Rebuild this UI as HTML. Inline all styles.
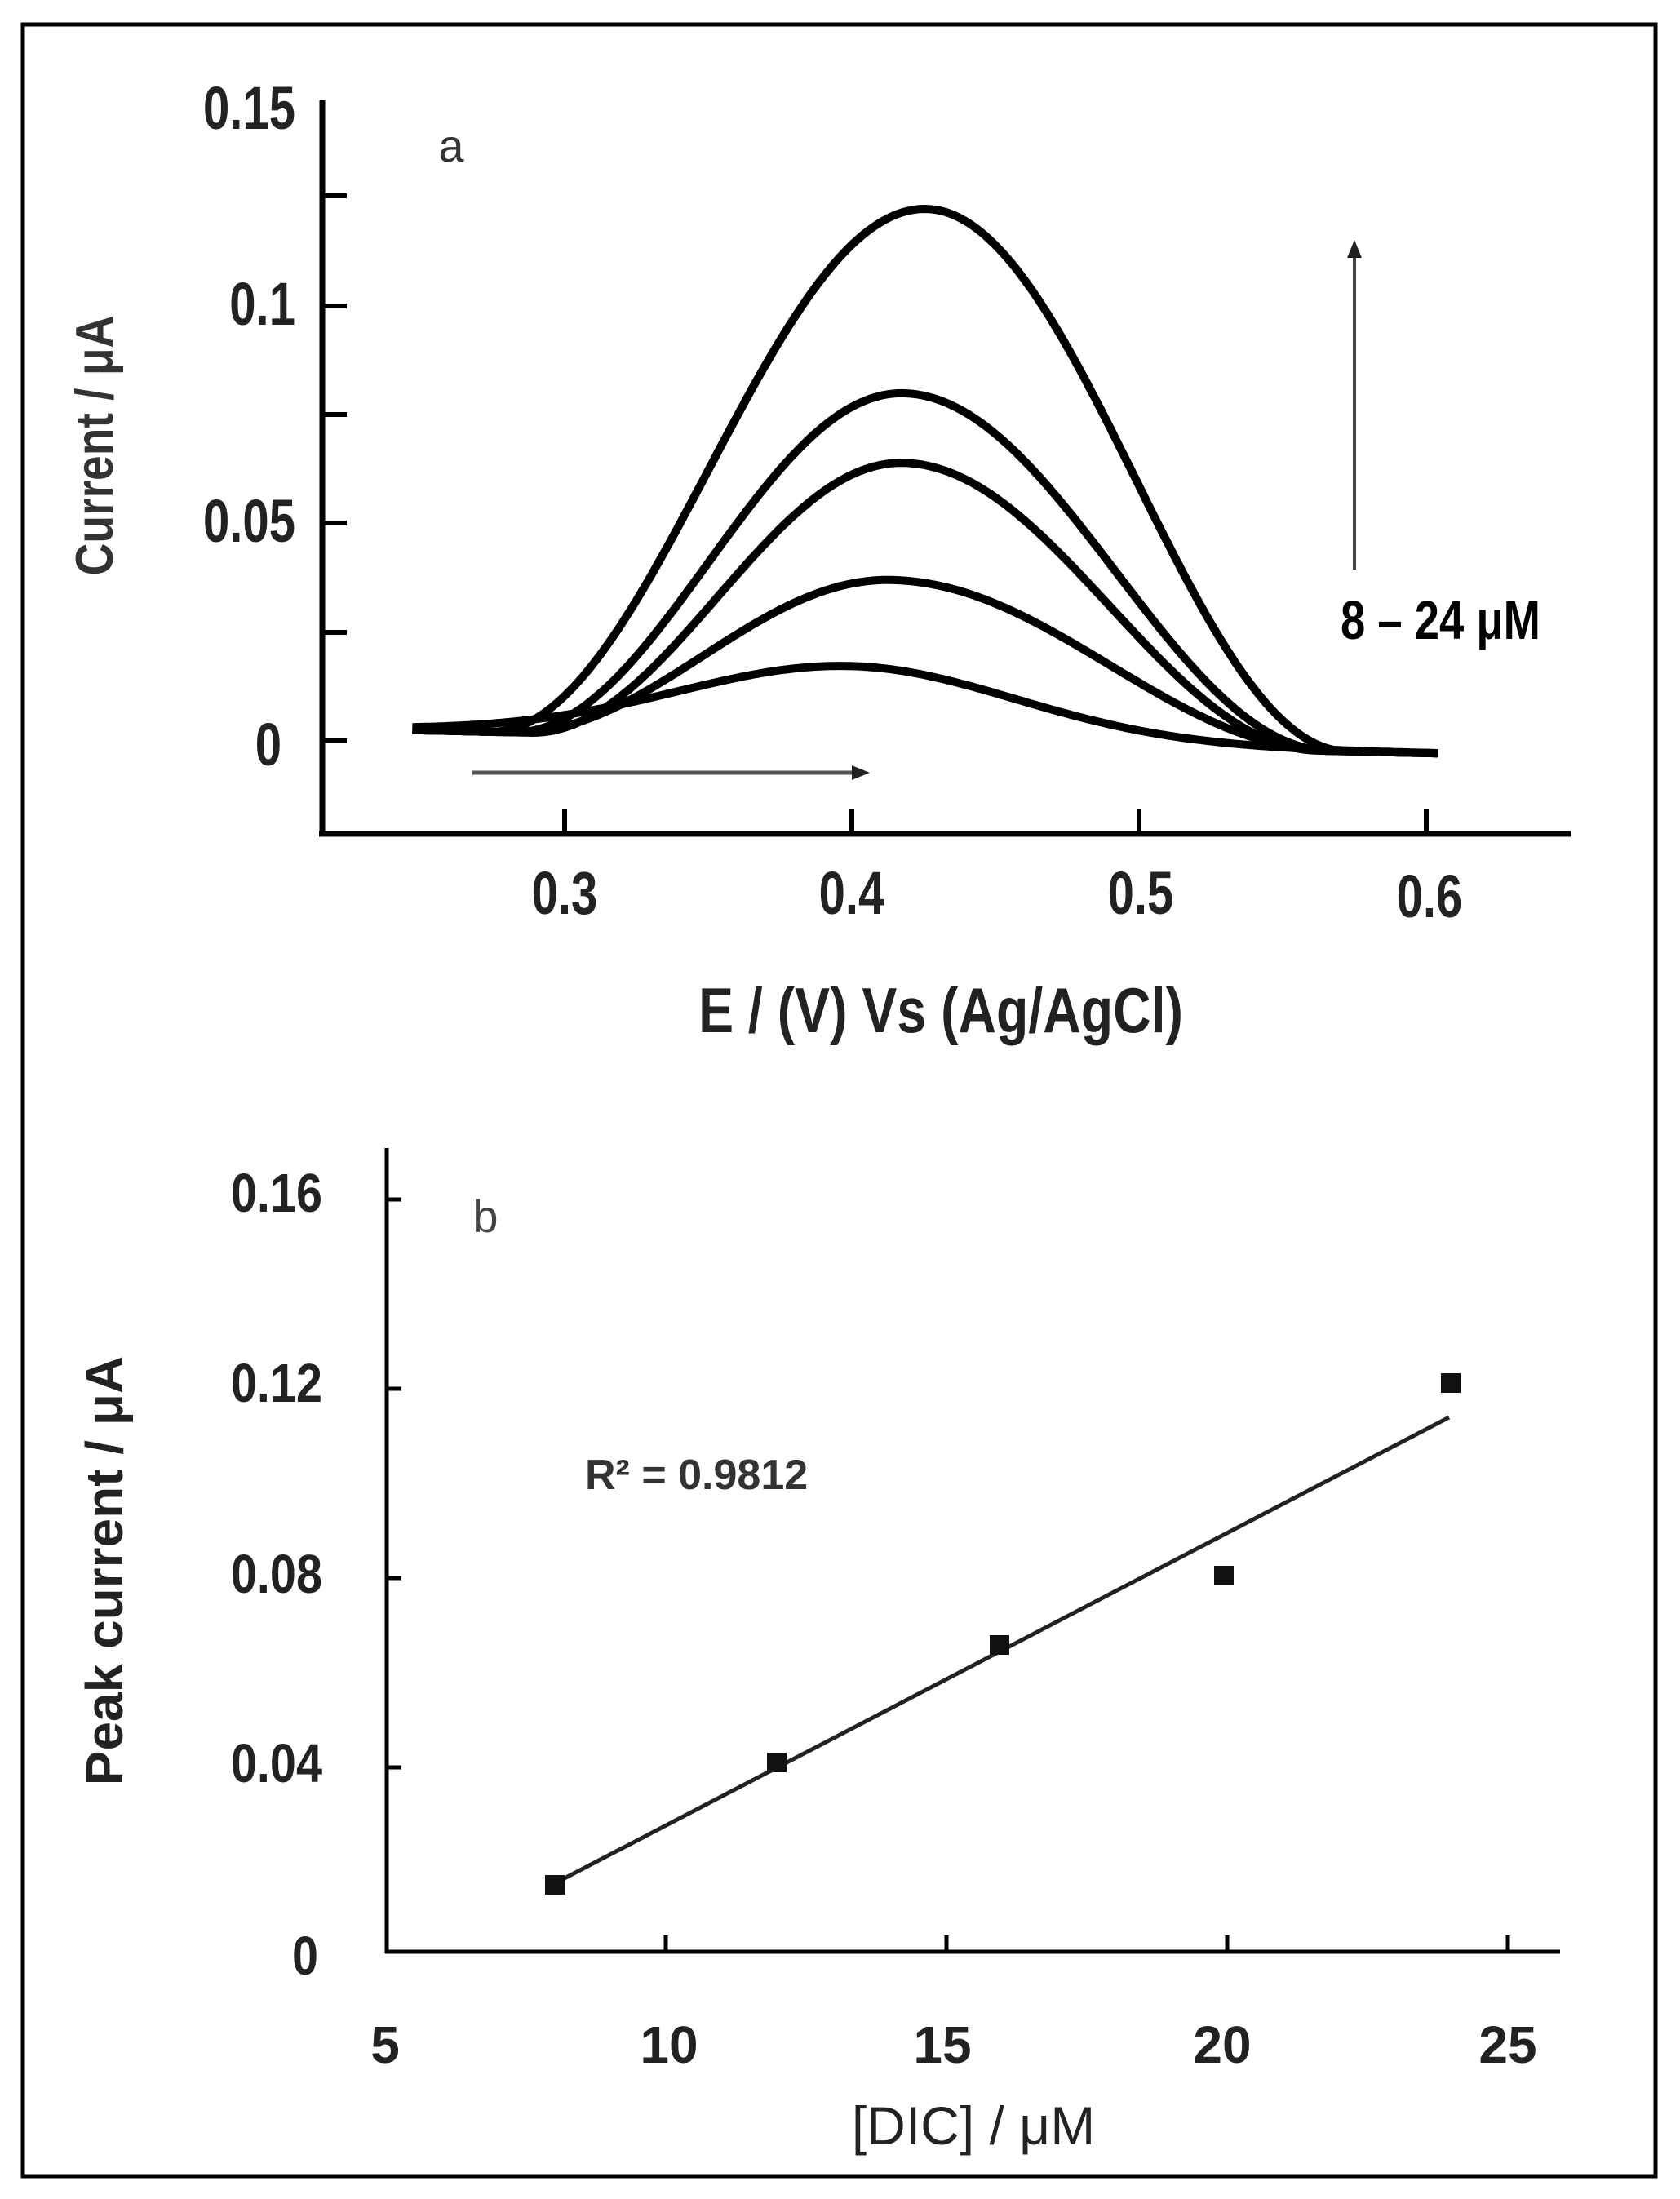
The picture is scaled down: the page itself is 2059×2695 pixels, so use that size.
<!DOCTYPE html>
<html><head><meta charset="utf-8"><style>
html,body{margin:0;padding:0;background:#fff;}
svg{display:block;}
text{font-family:"Liberation Sans",sans-serif;}
</style></head><body>
<svg id="s" width="2059" height="2695" viewBox="0 0 2059 2695" xmlns="http://www.w3.org/2000/svg">
<rect x="0" y="0" width="2059" height="2695" fill="#fff"/>
<rect x="28" y="30" width="2001" height="2637" fill="none" stroke="#000" stroke-width="5"/>

<g stroke="#000" stroke-width="7" fill="none">
<line x1="395" y1="123" x2="395" y2="1025"/>
<line x1="391" y1="1022" x2="1925" y2="1022"/>
</g>
<g stroke="#000" stroke-width="6">
<line x1="395" y1="240" x2="425" y2="240"/>
<line x1="395" y1="375" x2="425" y2="375"/>
<line x1="395" y1="508" x2="425" y2="508"/>
<line x1="395" y1="641" x2="425" y2="641"/>
<line x1="395" y1="775" x2="425" y2="775"/>
<line x1="395" y1="908" x2="425" y2="908"/>
<line x1="692" y1="1022" x2="692" y2="992"/>
<line x1="1044" y1="1022" x2="1044" y2="992"/>
<line x1="1396" y1="1022" x2="1396" y2="992"/>
<line x1="1748" y1="1022" x2="1748" y2="992"/>
</g>
<g font-weight="bold" font-size="66" fill="#222" text-anchor="end">
<text x="362" y="158" transform="translate(362,158) scale(0.88,1.12) translate(-362,-158)">0.15</text>
<text x="362" y="398" transform="translate(362,398) scale(0.88,1.12) translate(-362,-398)">0.1</text>
<text x="362" y="664" transform="translate(362,664) scale(0.88,1.12) translate(-362,-664)">0.05</text>
<text x="345" y="938" transform="translate(345,938) scale(0.88,1.12) translate(-345,-938)">0</text>
</g>
<g font-weight="bold" font-size="66" fill="#222" text-anchor="middle">
<text x="692" y="1120" transform="translate(692,1120) scale(0.88,1.12) translate(-692,-1120)">0.3</text>
<text x="1044" y="1120" transform="translate(1044,1120) scale(0.88,1.12) translate(-1044,-1120)">0.4</text>
<text x="1398" y="1120" transform="translate(1398,1120) scale(0.88,1.12) translate(-1398,-1120)">0.5</text>
<text x="1752" y="1124" transform="translate(1752,1124) scale(0.88,1.12) translate(-1752,-1124)">0.6</text>
</g>
<text x="1153" y="1265" font-weight="bold" font-size="70" fill="#222" text-anchor="middle" transform="translate(1153,1265) scale(0.92,1.12) translate(-1153,-1265)">E / (V) Vs (Ag/AgCl)</text>
<text x="0" y="0" font-weight="bold" font-size="60" fill="#333" text-anchor="middle" transform="translate(138,546) rotate(-90) scale(0.92,1.08)">Current / μA</text>
<text x="553" y="198" font-size="56" fill="#333" text-anchor="middle">a</text>

<line x1="1660" y1="698" x2="1660" y2="312" stroke="#444" stroke-width="4"/>
<polygon points="1660,294 1651,316 1669,316" fill="#222"/>
<line x1="579" y1="947" x2="1045" y2="947" stroke="#555" stroke-width="5"/>
<polygon points="1066,947 1044,938 1044,956" fill="#222"/>
<text x="1643" y="783" font-size="64" font-weight="bold" fill="#000" font-family="'DejaVu Sans Condensed','Liberation Sans',sans-serif" transform="translate(1643,783) scale(0.85,1.05) translate(-1643,-783)">8 –  24 μM</text>

<g id="curves" fill="none" stroke="#000" stroke-width="10" stroke-linejoin="round" stroke-linecap="butt"></g>

<g stroke="#000" stroke-width="5" fill="none">
<line x1="474" y1="1407" x2="474" y2="2394"/>
<line x1="472" y1="2392" x2="1912" y2="2392"/>
</g>
<g stroke="#000" stroke-width="5">
<line x1="474" y1="1470" x2="492" y2="1470"/>
<line x1="474" y1="1702" x2="492" y2="1702"/>
<line x1="474" y1="1934" x2="492" y2="1934"/>
<line x1="474" y1="2166" x2="492" y2="2166"/>
<line x1="816" y1="2392" x2="816" y2="2372"/>
<line x1="1160" y1="2392" x2="1160" y2="2372"/>
<line x1="1504" y1="2392" x2="1504" y2="2372"/>
<line x1="1848" y1="2392" x2="1848" y2="2372"/>
</g>
<g font-weight="bold" font-size="64" fill="#222" text-anchor="end">
<text x="395" y="1485" transform="translate(395,1485) scale(0.9,1.05) translate(-395,-1485)">0.16</text>
<text x="395" y="1718" transform="translate(395,1718) scale(0.9,1.05) translate(-395,-1718)">0.12</text>
<text x="395" y="1952" transform="translate(395,1952) scale(0.9,1.05) translate(-395,-1952)">0.08</text>
<text x="395" y="2184" transform="translate(395,2184) scale(0.9,1.05) translate(-395,-2184)">0.04</text>
<text x="390" y="2420" transform="translate(390,2420) scale(0.9,1.05) translate(-390,-2420)">0</text>
</g>
<g font-weight="bold" font-size="64" fill="#222" text-anchor="middle">
<text x="472" y="2528">5</text>
<text x="820" y="2528">10</text>
<text x="1155" y="2528">15</text>
<text x="1498" y="2528">20</text>
<text x="1848" y="2528">25</text>
</g>
<text x="1193" y="2628" font-size="66" fill="#222" text-anchor="middle">[DIC] / μM</text>
<text x="0" y="0" font-weight="bold" font-size="64" fill="#222" text-anchor="middle" transform="translate(150,1925) rotate(-90)">Peak current / μA</text>
<text x="595" y="1510" font-size="56" fill="#444" text-anchor="middle">b</text>
<text x="717" y="1825" font-weight="bold" font-size="52" fill="#333">R² = 0.9812</text>
<line x1="686" y1="2305" x2="1776" y2="1737" stroke="#222" stroke-width="5"/>
<g fill="#111">
<rect x="668" y="2298" width="24" height="24"/>
<rect x="940" y="2148" width="24" height="24"/>
<rect x="1213" y="2004" width="24" height="24"/>
<rect x="1488" y="1919" width="24" height="24"/>
<rect x="1766" y="1683" width="24" height="24"/>
</g>
</svg>
<script>
(function(){
var X=function(E){return 692+(E-0.3)*3520;};
var Y=function(I){return 908-I*5330;};
function base(E){return 0.0025-(E-0.247)*0.015;}
var cs=[
 {A:0.1225,mu:0.426,hL:0.076,hR:0.073,t:'c'},
 {A:0.080,mu:0.418,hL:0.068,hR:0.074,t:'c'},
 {A:0.064,mu:0.418,hL:0.065,hR:0.072,t:'c'},
 {A:0.037,mu:0.414,hL:0.066,hR:0.076,t:'c'},
 {A:0.017,mu:0.399,hL:0.070,hR:0.068,t:'g'}
];
var g=document.getElementById('curves');
cs.forEach(function(c){
 var d='';
 for(var i=0;i<=300;i++){
  var E=0.247+(0.604-0.247)*i/300;
  var dd=E-c.mu, h=dd<0?c.hL:c.hR, u=Math.abs(dd/h), f;
  if(c.t=='c'){ f = u<2 ? Math.pow(Math.cos(Math.PI/4*u),2) : 0; }
  else { f=Math.exp(-Math.LN2*u*u); }
  var I=base(E)+c.A*f;
  d+=(i?'L':'M')+X(E).toFixed(1)+','+Y(I).toFixed(1);
 }
 var p=document.createElementNS('http://www.w3.org/2000/svg','path');
 p.setAttribute('d',d);g.appendChild(p);
});
})();
</script>
</body></html>
